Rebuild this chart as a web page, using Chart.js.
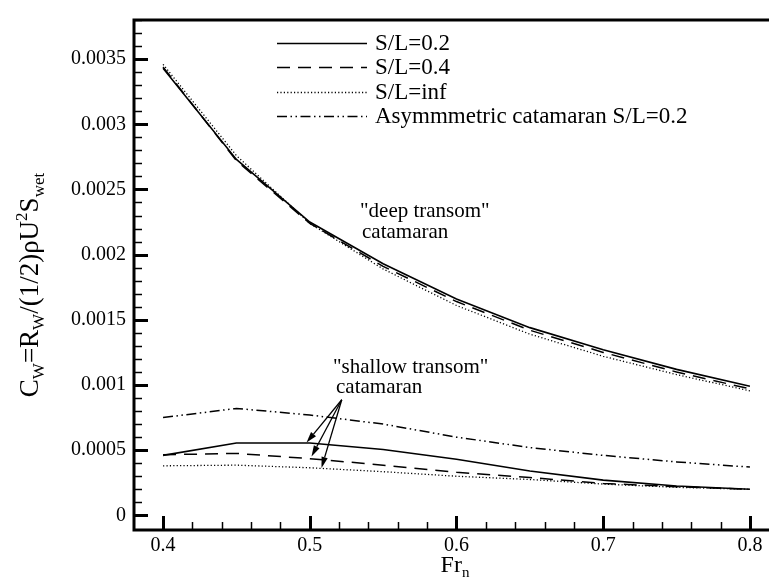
<!DOCTYPE html>
<html>
<head>
<meta charset="utf-8">
<script src="https://cdn.jsdelivr.net/npm/chart.js@4.4.1/dist/chart.umd.min.js"></script>
<style>
  html, body { margin: 0; padding: 0; background: #fff; overflow: hidden; }
  #wrap { width: 769px; height: 582px; }
</style>
</head>
<body>
<div id="wrap"><canvas id="cw" width="769" height="582"></canvas></div>
<script>
// Froude numbers where the wave resistance was computed
const frn = [0.40, 0.45, 0.50, 0.55, 0.60, 0.65, 0.70, 0.75, 0.80];

// "deep transom" catamaran
const deep02  = [0.00343, 0.00273, 0.00225, 0.00193, 0.00166, 0.00144, 0.00127, 0.00112, 0.00099];
const deep04  = [0.00344, 0.00272, 0.00224, 0.00191, 0.00164, 0.00142, 0.00125, 0.00110, 0.00097];
const deepInf = [0.00346, 0.00276, 0.00224, 0.00189, 0.00161, 0.00139, 0.00122, 0.00108, 0.000955];

// "shallow transom" catamaran
const shallow02  = [0.00046, 0.000555, 0.000555, 0.000505, 0.00043, 0.00034, 0.00027, 0.000225, 0.0002];
const shallow04  = [0.000465, 0.000475, 0.000435, 0.000385, 0.00033, 0.00029, 0.000245, 0.00022, 0.0002];
const shallowInf = [0.00038, 0.000385, 0.000365, 0.000335, 0.0003, 0.000275, 0.00024, 0.000215, 0.0002];

// asymmetric catamaran, S/L = 0.2
const asym02 = [0.00075, 0.00082, 0.00077, 0.0007, 0.0006, 0.00052, 0.00046, 0.00041, 0.00037];

// axis ticks
const xTicks = [0.4, 0.5, 0.6, 0.7, 0.8];
const xTickLabels = ['0.4', '0.5', '0.6', '0.7', '0.8'];
const yTicks = [0, 0.0005, 0.001, 0.0015, 0.002, 0.0025, 0.003, 0.0035];
const yTickLabels = ['0', '0.0005', '0.001', '0.0015', '0.002', '0.0025', '0.003', '0.0035'];

// legend entries
const legendLabels = ['S/L=0.2', 'S/L=0.4', 'S/L=inf', 'Asymmmetric catamaran S/L=0.2'];

const SERIF = '"Liberation Serif", "DejaVu Serif", serif';

const styles = {
  solid:  { dash: [],                            width: 1.6 },
  dashed: { dash: [13, 8],                       width: 1.5 },
  dotted: { dash: [1.2, 2.2],                    width: 1.3 },
  dashdd: { dash: [10, 3.5, 1.5, 3.5, 1.5, 3.5], width: 1.5 }
};

function series(vals, st) {
  return {
    data: frn.map((f, i) => ({ x: f, y: vals[i] })),
    borderColor: '#000',
    borderWidth: st.width,
    borderDash: st.dash,
    pointRadius: 0,
    tension: 0,
    fill: false
  };
}

const legendStyles = [styles.solid, styles.dashed, styles.dotted, styles.dashdd];

// arrows of the "shallow transom" note: tail and heads in data units
const arrowTail = { x: 0.5218, y: 0.000887 };
const arrowHeads = [
  { x: 0.4978, y: 0.000558 },
  { x: 0.5012, y: 0.000452 },
  { x: 0.5080, y: 0.000364 }
];

function drawRich(ctx, parts, x, y, big) {
  // parts: [text, kind] where kind is 'n', 'sub' or 'sup'; centred on x
  const small = Math.round(big * 0.62);
  let total = 0;
  parts.forEach(p => {
    ctx.font = (p[1] === 'n' ? big : small) + 'px ' + SERIF;
    total += ctx.measureText(p[0]).width;
  });
  let cx = x - total / 2;
  ctx.textBaseline = 'alphabetic';
  ctx.textAlign = 'left';
  parts.forEach(p => {
    const sz = p[1] === 'n' ? big : small;
    ctx.font = sz + 'px ' + SERIF;
    let dy = 0;
    if (p[1] === 'sub') dy = big * 0.22;
    if (p[1] === 'sup') dy = -big * 0.4;
    ctx.fillText(p[0], cx, y + dy);
    cx += ctx.measureText(p[0]).width;
  });
}

function arrow(ctx, x0, y0, x1, y1) {
  const ang = Math.atan2(y1 - y0, x1 - x0);
  const L = 11, W = 3.2;
  const bx = x1 - L * Math.cos(ang), by = y1 - L * Math.sin(ang);
  ctx.beginPath();
  ctx.moveTo(x0, y0);
  ctx.lineTo(bx, by);
  ctx.lineWidth = 1.3;
  ctx.setLineDash([]);
  ctx.stroke();
  ctx.beginPath();
  ctx.moveTo(x1, y1);
  ctx.lineTo(bx + W * Math.sin(ang), by - W * Math.cos(ang));
  ctx.lineTo(bx - W * Math.sin(ang), by + W * Math.cos(ang));
  ctx.closePath();
  ctx.fill();
}

const framePlugin = {
  id: 'frame',
  afterDatasetsDraw(chart) {
    const { ctx, chartArea: a, scales: { x, y } } = chart;
    ctx.save();
    ctx.strokeStyle = '#000';
    ctx.fillStyle = '#000';
    ctx.setLineDash([]);

    // inward ticks on the left axis (major every 0.0005, minor every 0.0001)
    for (let k = 0; k <= 38; k++) {
      const v = k * 0.0001;
      if (v > y.max) break;
      const major = k % 5 === 0;
      const py = Math.round(y.getPixelForValue(v)) + 0.5;
      ctx.lineWidth = major ? 3 : 1.5;
      ctx.beginPath();
      ctx.moveTo(a.left, py);
      ctx.lineTo(a.left + (major ? 14 : 8), py);
      ctx.stroke();
    }

    // inward ticks on the bottom axis (major every 0.1, minor every 0.02)
    for (let k = 19; k <= 41; k++) {
      const v = k * 0.02;
      if (v < x.min || v > x.max) continue;
      const major = k % 5 === 0;
      const px = Math.round(x.getPixelForValue(v)) + 0.5;
      ctx.lineWidth = major ? 3 : 1.5;
      ctx.beginPath();
      ctx.moveTo(px, a.bottom);
      ctx.lineTo(px, a.bottom - (major ? 14 : 8));
      ctx.stroke();
    }

    // frame: left, top, bottom
    ctx.lineWidth = 3;
    ctx.beginPath();
    ctx.moveTo(a.right + 2, a.top);
    ctx.lineTo(a.left, a.top);
    ctx.lineTo(a.left, a.bottom);
    ctx.lineTo(a.right + 2, a.bottom);
    ctx.stroke();

    // legend
    const rows = [43, 67, 92, 116];
    ctx.font = '23px ' + SERIF;
    ctx.textAlign = 'left';
    ctx.textBaseline = 'middle';
    legendLabels.forEach((lab, i) => {
      const st = legendStyles[i];
      ctx.lineWidth = st.width;
      ctx.setLineDash(st.dash);
      ctx.beginPath();
      ctx.moveTo(277, rows[i] + 0.5);
      ctx.lineTo(367, rows[i] + 0.5);
      ctx.stroke();
      ctx.setLineDash([]);
      ctx.fillText(lab, 375, rows[i] + 1);
    });

    // notes
    ctx.font = '21px ' + SERIF;
    ctx.textBaseline = 'alphabetic';
    ctx.fillText('"deep transom"', 360, 217);
    ctx.fillText('catamaran', 362, 238);
    ctx.fillText('"shallow transom"', 333, 373);
    ctx.fillText('catamaran', 336, 393);

    const tx = x.getPixelForValue(arrowTail.x), ty = y.getPixelForValue(arrowTail.y);
    arrowHeads.forEach(h => {
      arrow(ctx, tx, ty, x.getPixelForValue(h.x), y.getPixelForValue(h.y));
    });

    // axis titles
    ctx.save();
    ctx.translate(38, 285);
    ctx.rotate(-Math.PI / 2);
    drawRich(ctx, [['C', 'n'], ['W', 'sub'], ['=R', 'n'], ['W', 'sub'], ['/(1/2)\u03C1U', 'n'], ['2', 'sup'], ['S', 'n'], ['wet', 'sub']], 0, 0, 27);
    ctx.restore();
    drawRich(ctx, [['Fr', 'n'], ['n', 'sub']], 455, 572, 24);

    ctx.restore();
  }
};

new Chart(document.getElementById('cw'), {
  type: 'line',
  data: {
    datasets: [
      series(deep02, styles.solid),
      series(deep04, styles.dashed),
      series(deepInf, styles.dotted),
      series(shallow02, styles.solid),
      series(shallow04, styles.dashed),
      series(shallowInf, styles.dotted),
      series(asym02, styles.dashdd)
    ]
  },
  options: {
    responsive: false,
    animation: false,
    layout: { padding: { top: 8, right: 0, left: 0, bottom: 0 } },
    plugins: { legend: { display: false }, tooltip: { enabled: false } },
    scales: {
      x: {
        type: 'linear',
        min: 0.3802,
        max: 0.813,
        afterFit(s) { s.height = 52; },
        afterBuildTicks(s) { s.ticks = xTicks.map(v => ({ value: v })); },
        grid: { display: false, drawTicks: false },
        border: { display: false },
        ticks: {
          padding: 4,
          color: '#000',
          maxRotation: 0,
          font: { family: SERIF, size: 20 },
          callback: (v, i) => xTickLabels[i]
        }
      },
      y: {
        type: 'linear',
        min: -0.0001124,
        max: 0.0038,
        afterFit(s) { s.width = 134; },
        afterBuildTicks(s) { s.ticks = yTicks.map(v => ({ value: v })); },
        grid: { display: false, drawTicks: false },
        border: { display: false },
        ticks: {
          padding: 8,
          color: '#000',
          font: { family: SERIF, size: 20 },
          callback: (v, i) => yTickLabels[i]
        }
      }
    }
  },
  plugins: [framePlugin]
});
</script>
</body>
</html>
